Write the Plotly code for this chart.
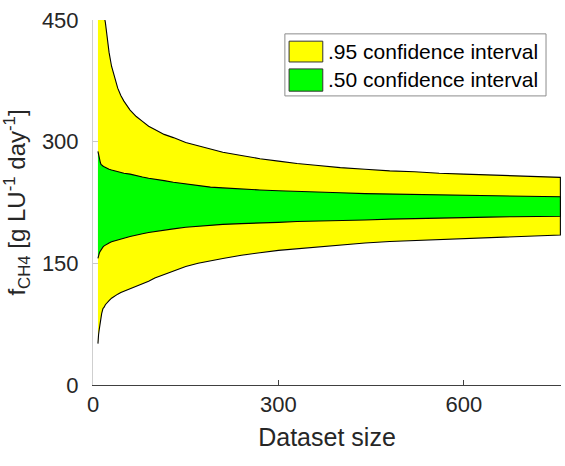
import plotly.graph_objects as go

# Dataset size
n = [8, 9, 10, 11, 12, 13, 14, 16, 18, 20, 23, 26, 30, 35, 40, 45, 50, 60, 70, 80,
     90, 100, 115, 130, 150, 170, 190, 210, 240, 270, 300, 330, 360, 400, 440, 480,
     520, 560, 600, 640, 680, 720, 756]

# .95 confidence interval bounds
upper95 = [640, 600, 565, 535, 512, 495, 482, 466, 455, 447, 427, 410, 393, 378, 366,
           357, 350, 339, 331, 325, 319, 315, 309, 305, 299, 295, 291, 287, 283, 279,
           276, 273, 271, 268, 266, 264, 263, 261, 260, 259, 258, 257, 256]
lower95 = [51, 62, 68, 73, 80, 84, 88, 94, 96, 99, 102, 104, 107, 110, 112, 114, 116,
           119, 122, 125, 128, 132, 136, 140, 146, 150, 153, 156, 160, 163, 166, 168,
           170, 172.5, 175, 177, 178.5, 180, 181, 182, 183, 184, 185]

# .50 confidence interval bounds
upper50 = [288, 284, 279, 276, 274, 272, 271, 270, 269, 268, 267, 266, 265, 264, 263,
           262, 261, 260, 258, 256.5, 255, 253.5, 252, 250, 248, 246, 244, 243, 241.5,
           240.5, 239.5, 238.5, 238, 237, 236, 235.5, 235, 234.5, 234, 233.5, 233,
           232.5, 232]
lower50 = [156, 159, 162, 164, 165.5, 167, 168, 170, 171.5, 172.5, 174, 175, 176.5, 178,
           179, 180, 181, 183, 185, 186.5, 188, 189.5, 191, 192.5, 194.5, 196, 197, 198,
           199, 200, 200.5, 201.5, 202, 203, 203.5, 204.5, 205, 205.5, 206.5, 207, 207.5,
           208, 208]

series_names = [".95 confidence interval", ".50 confidence interval"]
series_colors = ["#FFFF00", "#00FF00"]

x_ticks = [0, 300, 600]
y_ticks = [0, 150, 300, 450]

FONT = "Liberation Sans, Arial, sans-serif"

fig = go.Figure()
bands = [(upper95, lower95), (upper50, lower50)]
for (up, lo), name, col in zip(bands, series_names, series_colors):
    fig.add_trace(go.Scatter(
        x=n + n[::-1], y=up + lo[::-1],
        fill="toself", fillcolor=col, mode="lines",
        line=dict(color="black", width=1.1),
        name=name, hoverinfo="skip", showlegend=False))

# MATLAB-style legend box built from shapes + text
shapes = [dict(type="rect", xref="paper", yref="paper",
               x0=0.410, x1=0.968, y0=0.792, y1=0.962,
               fillcolor="white", line=dict(color="#8c8c8c", width=1), layer="above")]
patch_y = [(0.885, 0.942), (0.805, 0.866)]
text_y = [0.913, 0.836]
annotations = []
for (y0, y1), ty, name, col in zip(patch_y, text_y, series_names, series_colors):
    shapes.append(dict(type="rect", xref="paper", yref="paper",
                       x0=0.419, x1=0.491, y0=y0, y1=y1,
                       fillcolor=col, line=dict(color="#333333", width=1), layer="above"))
    annotations.append(dict(xref="paper", yref="paper", x=0.497, y=ty,
                            xanchor="left", yanchor="middle", showarrow=False,
                            text=name, font=dict(family=FONT, size=21, color="#000000")))

fig.update_layout(
    width=565, height=466,
    margin=dict(l=93, r=4, t=20, b=81),
    paper_bgcolor="white", plot_bgcolor="white",
    font=dict(family=FONT, color="#262626", size=22),
    showlegend=False,
    shapes=shapes, annotations=annotations,
    xaxis=dict(
        range=[0, 757], tickvals=x_ticks, ticktext=[str(v) for v in x_ticks],
        ticks="inside", ticklen=5, tickcolor="#404040", tickwidth=1,
        showline=True, linecolor="#404040", linewidth=1,
        showgrid=False, zeroline=False,
        tickfont=dict(size=22, color="#262626"),
        title=dict(text="Dataset size", font=dict(size=25, color="#262626"), standoff=12),
    ),
    yaxis=dict(
        range=[0, 450], tickvals=y_ticks, ticktext=[str(v) for v in y_ticks],
        ticks="inside", ticklen=5, tickcolor="#c8c8c8", tickwidth=1,
        showline=True, linecolor="#cfcfcf", linewidth=1,
        showgrid=False, zeroline=False,
        tickfont=dict(size=22, color="#262626"),
        ticklabelstandoff=9,
        title=dict(text="f<sub>CH4</sub> [g LU<sup>-1</sup> day<sup>-1</sup>]",
                   font=dict(size=24, color="#262626"), standoff=11),
    ),
)

fig.write_html("out.html")
